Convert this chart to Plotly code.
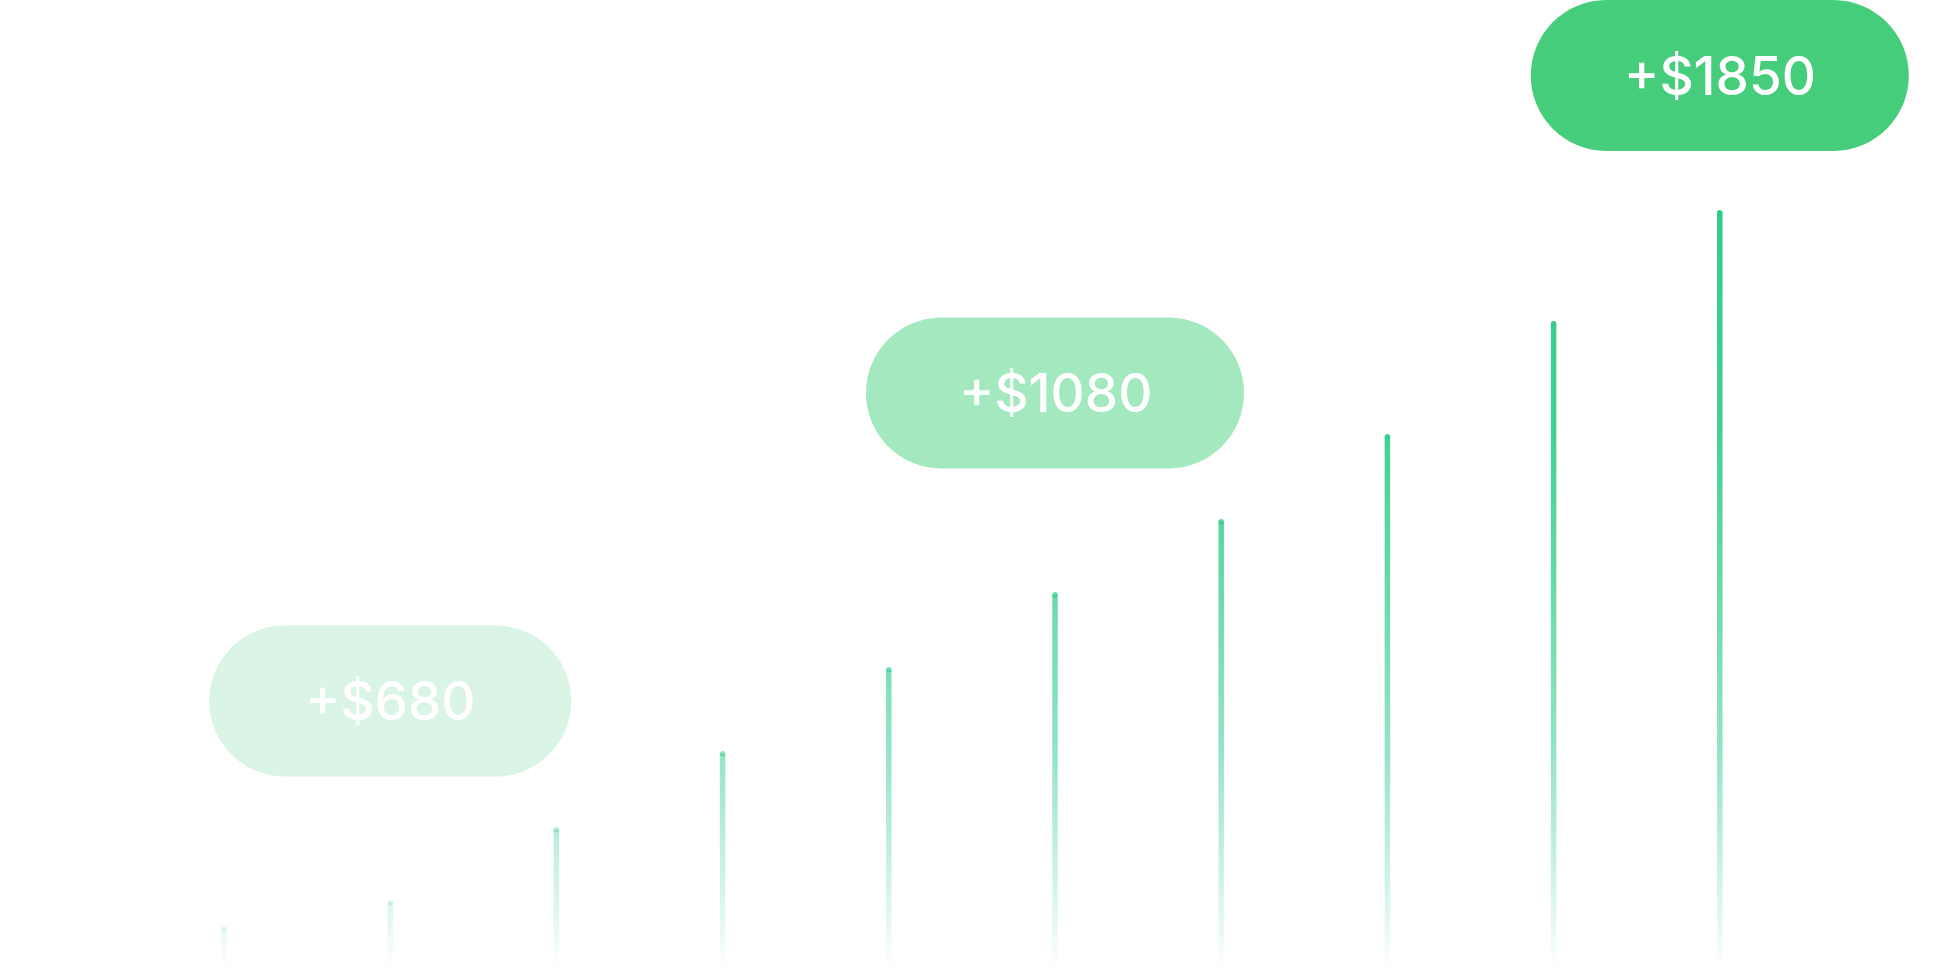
import plotly.graph_objects as go

# monthly gains, one thin bar each
months = list(range(10))
values = [44, 70, 143, 219, 303, 378, 451, 536, 649, 760]

# badges sitting above some of the bars
badge_months = [1, 5, 9]
badge_labels = ["+$680", "+$1080", "+$1850"]

# styling
W, H = 1944, 972
GREEN = (46, 204, 138)
alpha_stops = [(0, 0.0), (0.06, 0.12), (0.19, 0.35), (0.29, 0.52),
               (0.5, 0.72), (0.7, 0.9), (1, 1.0)]
badge_colors = ["#daf4e6", "#a3e8be", "#46cd7c"]
badge_widths = [362, 378, 378]
badge_height = 151
badge_gap = 199
bar_px = 5.5
step_px = 166.2
first_px = 224

x_per_px = 1 / step_px
ymax = 970


def rgba(a):
    return "rgba(%d,%d,%d,%.3f)" % (GREEN + (a,))


def alpha_at(f):
    for (f0, a0), (f1, a1) in zip(alpha_stops, alpha_stops[1:]):
        if f <= f1:
            return a0 + (a1 - a0) * (f - f0) / (f1 - f0)
    return alpha_stops[-1][1]


def pill_path(w, h):
    # rounded capsule around (0, 0), in pixels
    r = h / 2
    k = 0.5523 * r
    a = w / 2 - r
    return ("M %.1f,%.1f L %.1f,%.1f "
            "C %.1f,%.1f %.1f,%.1f %.1f,0 "
            "C %.1f,%.1f %.1f,%.1f %.1f,%.1f "
            "L %.1f,%.1f "
            "C %.1f,%.1f %.1f,%.1f %.1f,0 "
            "C %.1f,%.1f %.1f,%.1f %.1f,%.1f Z") % (
        -a, -r, a, -r,
        a + k, -r, w / 2, -k, w / 2,
        w / 2, k, a + k, r, a, r,
        -a, r,
        -a - k, r, -w / 2, k, -w / 2,
        -w / 2, -k, -a - k, -r, -a, -r)


colorscale = [[f, rgba(a)] for f, a in alpha_stops]
top = max(values)
half = bar_px / 2 * x_per_px
cap = bar_px / 2

fig = go.Figure()

for m, v in zip(months, values):
    fig.add_trace(go.Scatter(
        x=[m - half, m + half, m + half, m - half, m - half],
        y=[0, 0, v - cap, v - cap, 0],
        mode="lines",
        line=dict(width=0, color="rgba(0,0,0,0)"),
        fill="toself",
        fillgradient=dict(type="vertical", colorscale=colorscale,
                          start=0, stop=top),
        hoverinfo="skip",
        showlegend=False,
    ))

# rounded caps on the bar tops
fig.add_trace(go.Scatter(
    x=months,
    y=[v - cap for v in values],
    mode="markers",
    marker=dict(size=bar_px, color=[rgba(alpha_at((v - cap) / top)) for v in values],
                line=dict(width=0)),
    hoverinfo="skip",
    showlegend=False,
))

# pill badges above selected bars
for m, label, col, w in zip(badge_months, badge_labels, badge_colors, badge_widths):
    cy = min(values[m] + badge_gap, ymax - badge_height / 2)
    fig.add_shape(type="path", path=pill_path(w, badge_height),
                  xref="x", yref="y", xsizemode="pixel", ysizemode="pixel",
                  xanchor=m, yanchor=cy, fillcolor=col, line=dict(width=0),
                  layer="below")
    fig.add_annotation(x=m, y=cy, text=label, showarrow=False,
                       font=dict(family="Inter", size=53, color="white", weight=500),
                       xanchor="center", yanchor="middle")

fig.update_layout(
    width=W, height=H,
    margin=dict(l=0, r=0, t=0, b=0),
    paper_bgcolor="white",
    plot_bgcolor="white",
    hovermode=False,
    xaxis=dict(range=[-first_px * x_per_px, (W - first_px) * x_per_px],
               visible=False, fixedrange=True),
    yaxis=dict(range=[ymax - H, ymax], visible=False, fixedrange=True),
)

fig.write_html("out.html", config={"displayModeBar": False},
               post_script="document.body.style.margin='0';")
